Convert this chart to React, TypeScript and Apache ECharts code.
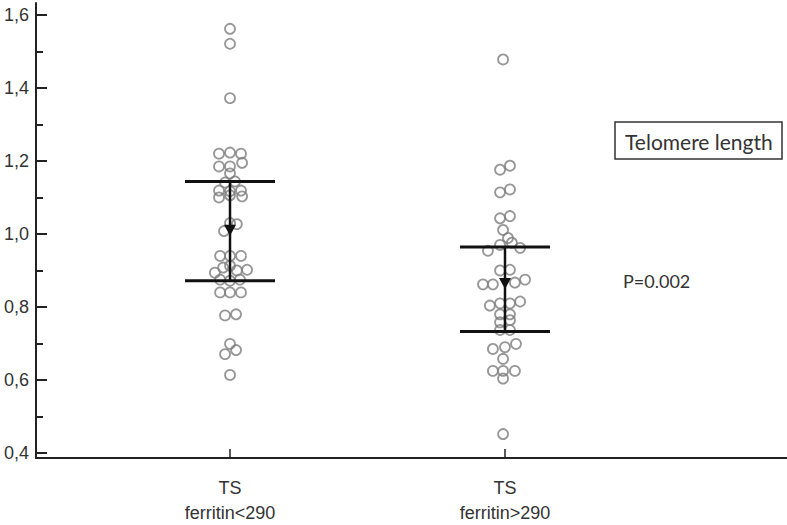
import React, { useEffect, useRef } from "react";
import * as echarts from "echarts";

// Category labels and positions on the x value axis
const groupPositions = [1, 2];
const groupLabels = ["TS\nferritin<290", "TS\nferritin>290"];

// Y axis ticks
const yMajorTicks = [0.4, 0.6, 0.8, 1.0, 1.2, 1.4, 1.6];
const yMinorTicks = [0.5, 0.7, 0.9, 1.1, 1.3, 1.5];

// Group 1: TS ferritin<290 (jittered x, value)
const lowFerritinX = [
  1.0, 1.0, 1.0,
  0.96, 1.0, 1.04,
  0.96, 1.0, 1.044,
  1.0,
  0.982, 1.018,
  0.96, 1.0, 1.04,
  0.96, 1.0, 1.044,
  1.0, 1.025, 0.978,
  0.964, 1.0, 1.04,
  0.945, 0.975, 1.0, 1.025, 1.062,
  0.964, 1.0, 1.036,
  0.964, 1.0, 1.04,
  0.982, 1.022,
  1.0, 0.982, 1.022,
  1.0,
];
const lowFerritinY = [
  1.562, 1.521, 1.372,
  1.22, 1.223, 1.22,
  1.185, 1.185, 1.195,
  1.166,
  1.141, 1.144,
  1.119, 1.117, 1.119,
  1.1, 1.106, 1.103,
  1.03, 1.027, 1.008,
  0.94, 0.94, 0.94,
  0.894, 0.908, 0.913, 0.9, 0.902,
  0.875, 0.872, 0.875,
  0.84, 0.84, 0.84,
  0.777, 0.78,
  0.699, 0.671, 0.682,
  0.614,
];

// Group 2: TS ferritin>290
const highFerritinX = [
  1.993,
  1.982, 2.018,
  1.982, 2.018,
  1.982, 2.018,
  1.993, 2.011,
  1.982, 2.025, 2.055, 1.938,
  1.982, 2.018,
  1.92, 1.956, 2.036, 2.073,
  1.945, 1.982, 2.018, 2.055,
  1.982, 2.018,
  1.982, 2.018,
  1.982, 2.018,
  1.956, 2.0, 2.04, 1.993,
  1.956, 1.993, 2.036, 1.993,
  1.993,
];
const highFerritinY = [
  1.478,
  1.176, 1.187,
  1.114, 1.122,
  1.043, 1.049,
  1.011, 0.989,
  0.97, 0.976, 0.962, 0.954,
  0.9, 0.902,
  0.862, 0.862, 0.867, 0.875,
  0.804, 0.81, 0.81, 0.815,
  0.78, 0.78,
  0.758, 0.764,
  0.737, 0.737,
  0.685, 0.69, 0.699, 0.658,
  0.625, 0.625, 0.625, 0.604,
  0.452,
];

// Mean and mean ± SD for each group
const groupMeans = [1.01, 0.864];
const groupUpper = [1.144, 0.964];
const groupLower = [0.872, 0.733];

const legendText = "Telomere length";
const pValueText = "P=0.002";

const fmt = (v: number) => v.toFixed(1).replace(".", ",");

export default function App() {
  const ref = useRef<HTMLDivElement>(null);

  useEffect(() => {
    if (!ref.current) return;
    const chart = echarts.init(ref.current, null, { renderer: "svg" });

    const pointStyle = {
      color: "rgba(255,255,255,0)",
      borderColor: "#7d7d7d",
      borderWidth: 1.8,
    };

    const scatterData = [
      ...lowFerritinX.map((x, i) => [x, lowFerritinY[i]]),
      ...highFerritinX.map((x, i) => [x, highFerritinY[i]]),
    ];

    const barData = groupPositions.map((x, i) => [
      x,
      groupMeans[i],
      groupUpper[i],
      groupLower[i],
    ]);

    const axisColor = "#222";
    const labelColor = "#333";

    chart.setOption({
      animation: false,
      backgroundColor: "#fff",
      grid: { left: 36, right: 0, top: 3, bottom: 63, containLabel: false },
      xAxis: {
        type: "value",
        min: 0.2945,
        max: 3.0255,
        splitLine: { show: false },
        axisLine: { show: true, onZero: false, lineStyle: { color: axisColor, width: 2 } },
        axisTick: {
          show: true,
          inside: true,
          length: 9,
          customValues: groupPositions,
          lineStyle: { color: axisColor, width: 1.5 },
        },
        axisLabel: {
          customValues: groupPositions,
          formatter: (v: number) => groupLabels[groupPositions.indexOf(Math.round(v))] ?? "",
          color: labelColor,
          fontFamily: "'Liberation Sans', Arial, sans-serif",
          fontSize: 18,
          lineHeight: 25,
          margin: 17,
        },
      },
      yAxis: [
        {
          type: "value",
          min: 0.3864,
          max: 1.6326,
          splitLine: { show: false },
          axisLine: { show: true, onZero: false, lineStyle: { color: axisColor, width: 2 } },
          axisTick: {
            show: true,
            inside: true,
            length: 11,
            customValues: yMajorTicks,
            lineStyle: { color: axisColor, width: 2 },
          },
          axisLabel: {
            customValues: yMajorTicks,
            formatter: (v: number) => fmt(v),
            color: labelColor,
            fontFamily: "'Liberation Sans', Arial, sans-serif",
            fontSize: 18,
            margin: 7,
          },
        },
        {
          type: "value",
          min: 0.3864,
          max: 1.6326,
          position: "left",
          splitLine: { show: false },
          axisLine: { show: false },
          axisTick: {
            show: true,
            inside: true,
            length: 7,
            customValues: yMinorTicks,
            lineStyle: { color: axisColor, width: 2 },
          },
          axisLabel: { show: false },
        },
      ],
      series: [
        {
          type: "scatter",
          data: scatterData,
          symbol: "circle",
          symbolSize: 10,
          itemStyle: pointStyle,
          z: 2,
        },
        {
          type: "custom",
          data: barData,
          z: 5,
          renderItem: (params: any, api: any) => {
            const x = api.value(0);
            const m = api.coord([x, api.value(1)]);
            const hi = api.coord([x, api.value(2)]);
            const lo = api.coord([x, api.value(3)]);
            const hw = 45;
            const lineStyle = { stroke: "#111", lineWidth: 3 };
            return {
              type: "group",
              children: [
                { type: "line", shape: { x1: hi[0] - hw, y1: hi[1], x2: hi[0] + hw, y2: hi[1] }, style: lineStyle },
                { type: "line", shape: { x1: lo[0] - hw, y1: lo[1], x2: lo[0] + hw, y2: lo[1] }, style: lineStyle },
                { type: "line", shape: { x1: hi[0], y1: hi[1], x2: lo[0], y2: lo[1] }, style: { stroke: "#111", lineWidth: 2.5 } },
                {
                  type: "polygon",
                  shape: { points: [[m[0] - 6, m[1] - 5.5], [m[0] + 6, m[1] - 5.5], [m[0], m[1] + 5.5]] },
                  style: { fill: "#111" },
                },
              ],
            };
          },
        },
      ],
      graphic: [
        {
          type: "rect",
          shape: { x: 615, y: 122, width: 167, height: 37 },
          style: { fill: "#fff", stroke: "#333", lineWidth: 1.5 },
        },
        {
          type: "text",
          x: 625,
          y: 141,
          style: {
            text: legendText,
            fill: "#333",
            font: "21px Lato, 'Open Sans', sans-serif",
            verticalAlign: "middle",
          },
        },
        {
          type: "text",
          x: 623,
          y: 281,
          style: {
            text: pValueText,
            fill: "#333",
            font: "18px Lato, 'Open Sans', sans-serif",
            verticalAlign: "middle",
          },
        },
      ],
    });

    return () => chart.dispose();
  }, []);

  return (
    <div
      ref={ref}
      style={{ position: "fixed", left: 0, top: 0, width: 787, height: 525, background: "#fff" }}
    />
  );
}
